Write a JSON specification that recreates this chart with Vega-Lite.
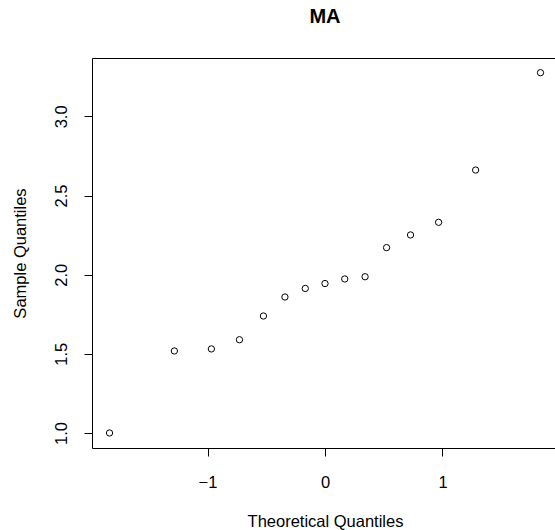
{
  "$schema": "https://vega.github.io/schema/vega-lite/v6.json",
  "autosize": "none",
  "width": 466,
  "height": 390,
  "padding": {"left": 92, "top": 58, "right": 0, "bottom": 82},
  "title": {"text": "MA", "fontSize": 20, "fontWeight": "bold", "font": "Liberation Sans", "color": "black", "anchor": "middle", "offset": 31},
  "data": {
    "values": [
      {"theoretical": -1.834, "sample": 1.0},
      {"theoretical": -1.282, "sample": 1.518},
      {"theoretical": -0.967, "sample": 1.531},
      {"theoretical": -0.728, "sample": 1.589},
      {"theoretical": -0.524, "sample": 1.739},
      {"theoretical": -0.341, "sample": 1.859},
      {"theoretical": -0.168, "sample": 1.913},
      {"theoretical": 0.0, "sample": 1.944},
      {"theoretical": 0.168, "sample": 1.973},
      {"theoretical": 0.341, "sample": 1.987},
      {"theoretical": 0.524, "sample": 2.171},
      {"theoretical": 0.728, "sample": 2.251},
      {"theoretical": 0.967, "sample": 2.331},
      {"theoretical": 1.282, "sample": 2.661},
      {"theoretical": 1.834, "sample": 3.276}
    ]
  },
  "mark": {"type": "point", "shape": "circle", "filled": false, "stroke": "black", "strokeWidth": 1, "size": 40, "opacity": 1},
  "encoding": {
    "x": {
      "field": "theoretical", "type": "quantitative",
      "scale": {"domain": [-1.983, 1.983], "nice": false, "zero": false},
      "axis": {"title": "Theoretical Quantiles", "values": [-1, 0, 1], "format": "d", "grid": false, "domain": false, "tickSize": 8, "labelPadding": 18, "titlePadding": 23}
    },
    "y": {
      "field": "sample", "type": "quantitative",
      "scale": {"domain": [0.905, 3.369], "nice": false, "zero": false},
      "axis": {"title": "Sample Quantiles", "values": [1.0, 1.5, 2.0, 2.5, 3.0], "format": ".1f", "grid": false, "domain": false, "tickSize": 8, "labelAngle": -90, "labelAlign": "center", "labelBaseline": "bottom", "labelPadding": 15, "titlePadding": 25}
    }
  },
  "config": {
    "view": {"stroke": "black", "strokeWidth": 1},
    "axis": {
      "labelFont": "Liberation Sans", "titleFont": "Liberation Sans",
      "labelFontSize": 16.5, "titleFontSize": 16.5, "titleFontWeight": "normal",
      "labelColor": "black", "titleColor": "black", "tickColor": "black",
      "labelFlush": false, "labelOverlap": false
    }
  }
}
